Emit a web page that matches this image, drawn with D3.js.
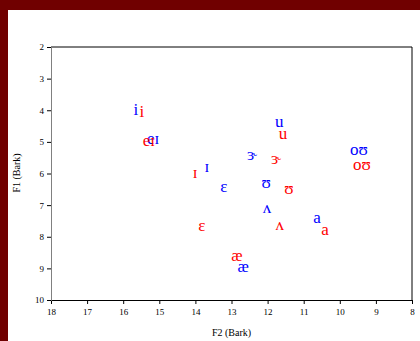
<!DOCTYPE html>
<html><head><meta charset="utf-8">
<script src="https://cdn.jsdelivr.net/npm/d3@7"></script>
<style>html,body{margin:0;padding:0;background:#fff;}svg{display:block;}</style>
</head><body>
<script>
const vowels = ["i","eɪ","u","ɝ","ɪ","ɛ","ʊ","ʌ","a","æ","oʊ"];
const blueF2 = [15.65,15.17,11.68,12.43,13.68,13.21,12.04,12.02,10.63,12.68,9.47];
const blueF1 = [3.99,4.88,4.37,5.39,5.77,6.40,6.30,7.09,7.38,8.93,5.23];
const redF2  = [15.48,15.29,11.57,11.77,14.01,13.82,11.41,11.66,10.41,12.85,9.39];
const redF1  = [4.03,4.97,4.75,5.54,5.96,7.63,6.49,7.60,7.76,8.58,5.70];
const xTicks = [18,17,16,15,14,13,12,11,10,9,8];
const yTicks = [2,3,4,5,6,7,8,9,10];

const W=420,H=341;
const svg=d3.select("body").append("svg").attr("width",W).attr("height",H);
svg.append("rect").attr("width",W).attr("height",H).attr("fill","#fff");
svg.append("rect").attr("x",0).attr("y",0).attr("width",W).attr("height",10).attr("fill","#700000");
svg.append("rect").attr("x",0).attr("y",0).attr("width",8).attr("height",H).attr("fill","#700000");

const L=51,R=412,T=47,B=300;
const x=d3.scaleLinear().domain([18,8]).range([L,R]);
const y=d3.scaleLinear().domain([2,10]).range([T,B]);

svg.append("line").attr("x1",L).attr("x2",R).attr("y1",T).attr("y2",T).attr("stroke","#000");
svg.append("line").attr("x1",R).attr("x2",R).attr("y1",T).attr("y2",B).attr("stroke","#000");

const xa=svg.append("g").attr("transform",`translate(0,${B})`)
  .call(d3.axisBottom(x).tickValues(xTicks).tickSize(4).tickPadding(5).tickFormat(d3.format("d")));
const ya=svg.append("g").attr("transform",`translate(${L},0)`)
  .call(d3.axisLeft(y).tickValues(yTicks).tickSize(4).tickPadding(3).tickFormat(d3.format("d")));
[xa,ya].forEach(g=>{g.selectAll("text").attr("font-family","Liberation Serif, Times New Roman, serif").attr("font-size",9).attr("fill","#000");});
xa.select(".domain").attr("stroke","#000");
ya.select(".domain").attr("stroke","#808080");
ya.selectAll(".tick line").attr("stroke","#000");

svg.append("text").attr("x",(L+R)/2).attr("y",336).attr("text-anchor","middle")
  .attr("font-family","Liberation Serif, serif").attr("font-size",10).text("F2 (Bark)");
svg.append("text").attr("transform","translate(20,173) rotate(-90)").attr("text-anchor","middle")
  .attr("font-family","Liberation Serif, serif").attr("font-size",10).text("F1 (Bark)");

const font="Liberation Serif, DejaVu Serif, serif";
function draw(f2,f1,color){
  svg.append("g").selectAll("text").data(vowels).join("text")
    .attr("x",(d,i)=>x(f2[i])).attr("y",(d,i)=>y(f1[i]))
    .attr("text-anchor","middle").attr("dominant-baseline","central")
    .attr("font-family",font).attr("font-size",17).attr("fill",color).text(d=>d);
}
draw(blueF2,blueF1,"#0000ff");
draw(redF2,redF1,"#ff0000");
</script>
</body></html>
